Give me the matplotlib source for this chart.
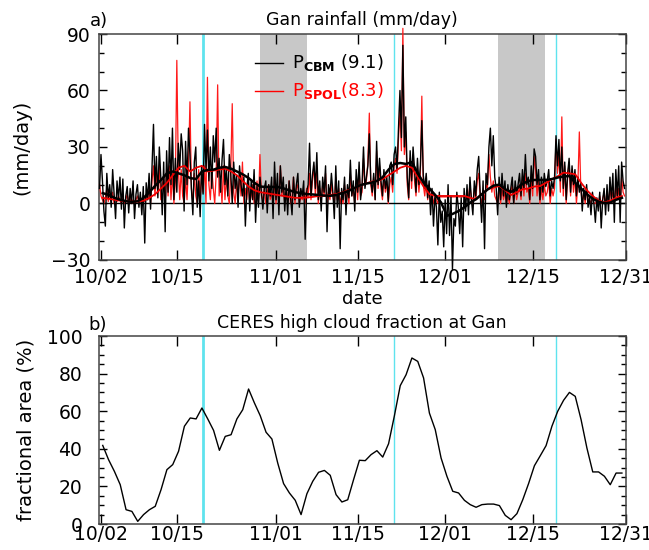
import numpy as np
import matplotlib.pyplot as plt
from matplotlib.ticker import MultipleLocator

# days counted so that 10/02 = 1
tick_days = [1, 14, 31, 45, 60, 75, 91]
tick_labels = ['10/02', '10/15', '11/01', '11/15', '12/01', '12/15', '12/31']
mjo_days = [18.5, 51.2, 79.0]
shade_spans = [(28.3, 36.3), (69.1, 77.2)]

# 6-hourly rain rates (mm/day), starting day 0.75
p_cbm = [
    8, 26, 12, -4,   -12, 16, 3, 10,   -2, 18, 5, -8,   12, 2, 14, -3,
    13, -13, 4, 9,   -5, 8, 0, 12,   -8, 5, 10, -2,   6, -6, 9, -21,
    11, 2, 16, -3,   20, 42, 8, 25,   3, 30, 14, -6,   22, -15, 28, 6,
    35, 10, 40, 2,   24, 6, 32, 18,   37, 28, -4, 33,   10, 40, 26, 8,
    -6, 22, 30, -2,   12, -7, 20, 5,   42, 18, 39, 12,   30, 8, 36, 22,
    40, 14, 24, 6,   23, 34, 10, 18,   4, 26, 16, 0,   22, 8, 15, -2,
    20, 10, 4, 14,   -12, 8, 16, -4,   12, 2, 18, -10,   9, -2, 14, 6,
    -3, 8, 12, -5,   10, 4, 14, -8,   22, 2, 16, -6,   20, 6, 14, -4,
    10, -6, 12, 3,   -6, 14, 2, 10,   16, -2, 8, 4,   12, -19, 6, 10,
    32, 4, 15, 22,   8, 27, 2, 12,   -4, 14, 6, 20,   -15, 10, 4, 16,
    6, -8, 20, -2,   12, -24, 8, 2,   14, -6, 10, 3,   23, 4, 12, -4,
    18, 6, 22, 2,   10, 30, 8, 14,   20, 37, 12, 6,   16, 2, 33, 10,
    24, 12, 4, 18,   8, 14, 1, 20,   22, 10, 26, 30,   18, 40, 60, 35,
    84, 30, 46, 14,   3, 28, 12, 30,   18, 6, 24, 10,   20, 44, 15, 8,
    16, 3, 12, -6,   8, -12, 4, -2,   -22, 6, -10, -4,   -23, 2, -16, 10,
    -17, 4, -35, -8,   -12, 6, -2, -16,   3, -23, 8, -4,   10, -6, 14, 2,
    -6, 12, 4, 18,   25, 6, -10, 12,   -24, 16, 10, 30,   40, 20, 36, 14,
    8, -6, 14, 2,   16, 4, 12, -2,   10, 2, 8, 14,   0, 12, 5, 10,
    16, 4, 18, 8,   26, 10, 14, 2,   20, 8, 29, 25,   10, 18, 2, 14,
    6, 16, 9, 12,   18, 4, 12, 8,   14, 36, 20, 34,   12, 30, 8, 22,
    2, 16, 24, 6,   20, 10, 18, 4,   14, 6, 11, -4,   8, 2, 10, -2,
    4, -6, 6, 0,   -10, 3, -4, 6,   -13, 2, 8, -6,   10, -4, 14, 2,
    16, -10, 18, 4,   20, -10, 22, 12,   8,
]
p_spol = [
    10, 4, 2, 0,   3, 8, 1, 5,   2, 6, 0, 3,   1, 4, 2, 0,
    3, 0, 2, 5,   1, 3, 0, 2,   0, 2, 4, 1,   3, 0, 2, 1,
    5, 2, 8, 0,   12, 20, 4, 16,   6, 20, 2, 10,   14, 0, 18, 4,
    20, 2, 16, 0,   12, 76, 20, 2,   18, 4, 0, 14,   2, 20, 54, 8,
    0, 16, 4, 0,   18, 2, 16, 6,   20, 0, 67, 10,   2, 18, 8, 0,
    16, 63, 4, 12,   0, 20, 2, 14,   4, 0, 18, 53,   6, 0, 12, 2,
    16, 4, 22, 0,   8, 2, 12, 0,   4, 10, 0, 6,   12, 0, 26, 4,
    2, 8, 0, 6,   10, 2, 6, 0,   14, 0, 8, 2,   20, 4, 10, 0,
    6, 2, 12, 0,   3, 14, 0, 8,   10, 0, 4, 2,   6, 0, 8, 3,
    16, 2, 12, 20,   4, 18, 0, 8,   2, 10, 4, 16,   0, 6, 2, 10,
    4, 0, 14, 2,   8, 0, 4, 0,   10, 2, 6, 0,   16, 4, 8, 0,
    12, 2, 18, 4,   6, 24, 10, 12,   22, 48, 10, 4,   14, 2, 28, 8,
    20, 8, 2, 14,   6, 12, 0, 10,   14, 6, 20, 24,   16, 34, 50, 28,
    93, 26, 38, 10,   2, 24, 8, 26,   12, 4, 18, 6,   16, 57, 10, 4,
    12, 2, 8, 0,   6, 0, 3, 2,   0, 4, 3.5, 3.5,   3.5, 3.5, 3.5, 3.5,
    3.5, 3.5, 3.5, 3.5,   3.5, 3.5, 3.5, 3.5,   3.5, 3.5, 3.5, 3.5,   3.5, 3.5, 10, 2,
    0, 8, 2, 12,   16, 4, 0, 6,   2, 10, 8, 26,   14, 6, 12, 4,
    2, 0, 10, 0,   8, 2, 6, 0,   4, 0, 6, 10,   0, 8, 2, 6,
    10, 2, 14, 4,   16, 6, 8, 0,   14, 4, 25, 18,   4, 12, 0, 8,
    2, 10, 4, 6,   12, 0, 8, 4,   8, 34, 16, 26,   6, 46, 4, 20,
    0, 14, 22, 4,   18, 6, 14, 0,   10, 38, 8, 0,   6, 0, 8, 2,
    2, 0, 4, 0,   0, 2, 0, 4,   0, 2, 6, 0,   4, 0, 8, 2,
    6, 0, 10, 2,   8, 0, 14, 6,   4,
]

# running means, one value per day
cbm_smooth = [
    5.5, 4.6, 3, 2, 1.2, 0.9, 1.2, 3, 6, 9.5,
    12.5, 16, 17, 16, 15, 13.5, 13, 17, 17.8, 18,
    19, 19.4, 18.5, 17, 15.5, 13.5, 11, 9, 8.8, 8.8,
    8.8, 8, 7, 6, 5.5, 5, 4.8, 4.5, 4.2, 4.1,
    4.5, 5.5, 6.5, 8, 9.5, 10.5, 11, 12, 14, 18,
    21, 21.5, 21, 22, 16, 11, 8, 4.5, 0.5, -6.5,
    -5.5, -4, -2, 0.5, 2.3, 5, 7.5, 9.5, 10, 7.5,
    6.2, 8, 10.5, 12, 12.5, 12.5, 12.5, 13, 13.8, 14.3,
    14.6, 11, 8, 5, 2.5, 1, 0.2, 0.5, 2, 3,
]
spol_smooth = [
    3, 2.5, 2, 1.5, 1.2, 1, 1, 1.5, 3, 5,
    8, 11, 15, 19, 20, 17, 19, 20, 17, 17.5,
    18, 18.5, 17, 15, 12, 9, 7, 6, 5.5, 5,
    4.5, 4, 3.5, 3, 3, 3.2, 3.5, 4, 4, 4.5,
    5, 5.8, 7, 8, 9.3, 10.5, 11.5, 12, 13, 15,
    17, 19, 20, 19, 14, 9, 5, 4, 4, 4,
    4, 4, 4, 3, 2.3, 5, 7.6, 8.5, 9.3, 7,
    4.5, 6, 7.6, 8, 9, 9.3, 11, 12.9, 14.5, 16.4,
    16, 15.5, 11, 7, 4, 1.5, 0.5, 1.5, 3, 4,
]

# CERES high cloud fraction (%), daily
cloud = [
    41.8, 34.2, 28, 20.9, 7.6, 6.7, 1.4, 5, 7.6, 9.4,
    18.3, 28.9, 31.6, 38.7, 52, 56.4, 55.9, 61.7, 55.9, 49.8,
    39.2, 46.6, 47.5, 55.9, 60.8, 71.8, 64.4, 57.6, 48.8, 45.2,
    32.4, 21.5, 16.5, 12.6, 5, 16.1, 22.7, 27.5, 28.5, 25.9,
    15.6, 11.7, 12.9, 23.6, 33.9, 33.7, 36.9, 39, 35.6, 42.7,
    57.6, 73.6, 79.4, 88.3, 86.5, 77.7, 59, 50.2, 35.1, 25.4,
    17.4, 16.5, 12.6, 10.3, 8.9, 10.3, 10.6, 10.6, 9.8, 4.6,
    2.3, 5.5, 12.9, 21.5, 31, 36.3, 41.7, 52, 60, 65.8,
    70, 67.9, 55.5, 40.4, 27.7, 27.7, 25.4, 20.9, 27.1, 27.1,
]

t_6h = 0.75 + 0.25 * np.arange(len(p_cbm))
t_day = 1.3 + np.arange(len(cloud))

fig = plt.figure(figsize=(6.49, 5.5), dpi=100)
ax1 = fig.add_axes([99/649, 1 - 260/550, 527/649, 226/550])
ax2 = fig.add_axes([99/649, 1 - 524/550, 527/649, 188/550])

cyan = '#5fe3ee'

def style(ax, ymajor, yminor, ypad, xpad):
    ax.set_xlim(0.66, 91.0)
    ax.set_xticks(tick_days)
    ax.set_xticklabels(tick_labels, fontsize=13.5)
    ax.yaxis.set_major_locator(MultipleLocator(ymajor))
    ax.yaxis.set_minor_locator(MultipleLocator(yminor))
    ax.tick_params(axis='x', which='major', direction='in', top=True, length=7.5, width=1, pad=xpad)
    ax.tick_params(axis='y', which='major', direction='in', right=True, length=6, width=1,
                   labelsize=13.5, pad=ypad)
    ax.tick_params(axis='y', which='minor', direction='in', right=True, length=3.5, width=1)
    for sp in ax.spines.values():
        sp.set_color('#444444')
        sp.set_linewidth(1.1)

# a) rainfall
for a, b in shade_spans:
    ax1.axvspan(a, b, color='#c8c8c8', lw=0, zorder=0)
for i, d in enumerate(mjo_days):
    ax1.axvline(d, color=cyan, lw=2.0 if i == 0 else 1.0, zorder=1)
ax1.axhline(0, color='black', lw=1.0, zorder=2)
ax1.plot(t_6h, p_spol, color='#ff1a1a', lw=0.9, zorder=3, clip_on=False)
ax1.plot(t_6h, p_cbm, color='black', lw=1.0, zorder=4, clip_on=False)
ax1.plot(t_day, spol_smooth, color='#ee0000', lw=1.3, zorder=5)
ax1.plot(t_day, cbm_smooth, color='black', lw=1.8, zorder=6)
ax1.set_ylim(-30, 90)
style(ax1, 30, 10, 6, 6)
ax1.set_ylabel('(mm/day)', fontsize=14, labelpad=14)
ax1.set_xlabel('date', fontsize=13, labelpad=2)

# legend drawn by hand
ax1.plot([0.296, 0.349], [0.872, 0.872], color='black', lw=1.0, transform=ax1.transAxes)
ax1.plot([0.296, 0.349], [0.748, 0.748], color='red', lw=1.0, transform=ax1.transAxes)
ax1.text(0.366, 0.872, r'P$_{\mathbf{CBM}}$ (9.1)', transform=ax1.transAxes,
         fontsize=13, va='center', ha='left', color='black')
ax1.text(0.366, 0.748, r'P$_{\mathbf{SPOL}}$(8.3)', transform=ax1.transAxes,
         fontsize=13, va='center', ha='left', color='red')

# b) high cloud
for i, d in enumerate(mjo_days):
    ax2.axvline(d, color=cyan, lw=2.0 if i == 0 else 1.0, zorder=1)
ax2.plot(t_day, cloud, color='black', lw=1.0, zorder=3)
ax2.set_ylim(0, 100)
style(ax2, 20, 5, 12, 1)
ax2.set_ylabel('fractional area (%)', fontsize=14, labelpad=8)

fig.text(90/649, 1 - 21/550, 'a)', fontsize=13, va='center', ha='left')
fig.text(362/649, 1 - 20/550, 'Gan rainfall (mm/day)', fontsize=12.5, va='center', ha='center')
fig.text(88/649, 1 - 325/550, 'b)', fontsize=13, va='center', ha='left')
fig.text(362/649, 1 - 323/550, 'CERES high cloud fraction at Gan', fontsize=12.5,
         va='center', ha='center')

fig.savefig('out.png', dpi=100)
